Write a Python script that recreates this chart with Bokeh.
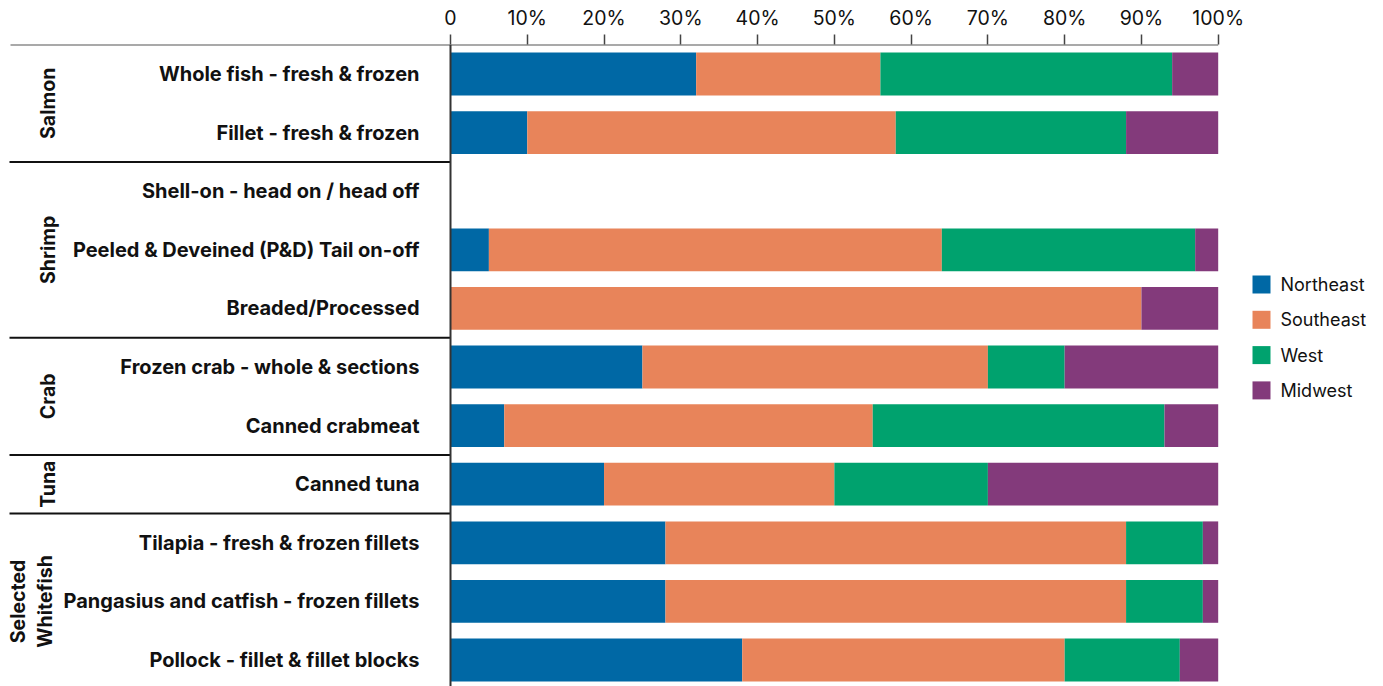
from bokeh.plotting import figure
from bokeh.models import ColumnDataSource, Range1d, LinearAxis, FixedTicker
from bokeh.core.properties import value
from bokeh.embed import file_html
from bokeh.resources import INLINE
import math

# --- data -------------------------------------------------------------
products = [
    "Whole fish - fresh & frozen",
    "Fillet - fresh & frozen",
    "Shell-on - head on / head off",
    "Peeled & Deveined (P&D) Tail on-off",
    "Breaded/Processed",
    "Frozen crab - whole & sections",
    "Canned crabmeat",
    "Canned tuna",
    "Tilapia - fresh & frozen fillets",
    "Pangasius and catfish - frozen fillets",
    "Pollock - fillet & fillet blocks",
]
groups = ["Salmon", "Shrimp", "Crab", "Tuna", "Selected\nWhitefish"]
group_sizes = [2, 3, 2, 1, 3]

regions = ["Northeast", "Southeast", "West", "Midwest"]
northeast = [32, 10, 0, 5, 0, 25, 7, 20, 28, 28, 38]
southeast = [24, 48, 0, 59, 90, 45, 48, 30, 60, 60, 42]
west = [38, 30, 0, 33, 0, 10, 38, 20, 10, 10, 15]
midwest = [6, 12, 0, 3, 10, 20, 7, 30, 2, 2, 5]
colors = ["#0068a5", "#e8845a", "#00a26e", "#833a7b"]

tick_values = [0, 10, 20, 30, 40, 50, 60, 70, 80, 90, 100]
tick_labels = ["0", "10%", "20%", "30%", "40%", "50%", "60%", "70%", "80%", "90%", "100%"]

# --- layout -----------------------------------------------------------
W, H = 1383, 686
PX_X = 7.677          # pixels per percentage point
ZERO_PX = 450         # pixel column of the 0 line
TOP = 44              # frame top (axis line)
ROW_PX = 58.6         # pixels per row
ROW0_PX = 73.5        # centre of first row

x_start = -ZERO_PX / PX_X
x_end = (W - ZERO_PX) / PX_X
y_start = -(ROW0_PX - TOP) / ROW_PX
y_end = (H - ROW0_PX) / ROW_PX

def px_to_x(px):
    return (px - ZERO_PX) / PX_X

def py_to_y(py):
    return (py - ROW0_PX) / ROW_PX

FONT = value("Inter")
INK = "#111111"

p = figure(
    width=W, height=H, output_backend="svg", toolbar_location=None,
    x_range=Range1d(x_start, x_end), y_range=Range1d(y_end, y_start),
    x_axis_location=None, y_axis_location=None,
    min_border_left=0, min_border_right=0, min_border_bottom=0, min_border_top=TOP,
    outline_line_color=None, background_fill_color="white", border_fill_color="white",
)
p.grid.visible = False

# top percentage axis
axis = LinearAxis(
    ticker=FixedTicker(ticks=tick_values),
    major_label_overrides={t: l for t, l in zip(tick_values, tick_labels)},
    axis_line_color=None,
    major_tick_line_color="#444444", major_tick_line_width=1.5,
    major_tick_out=10, major_tick_in=0,
    minor_tick_line_color=None,
    major_label_text_font="Inter", major_label_text_font_size="19.5px",
    major_label_text_color=INK, major_label_standoff=5,
)
p.add_layout(axis, "above")

# stacked bars
rows = list(range(len(products)))
src = ColumnDataSource(dict(
    row=rows, Northeast=northeast, Southeast=southeast, West=west, Midwest=midwest,
))
p.hbar_stack(regions, y="row", height=0.73, color=colors, line_color=None, source=src)

# product labels
p.text(x=[px_to_x(419)] * len(products), y=rows, text=products,
       text_align="right", text_baseline="middle",
       text_font=FONT, text_font_size="20px", text_font_style="bold",
       text_color=INK)

# group separators and group labels
bounds = []
start = 0
gx, gy = [], []
for g, n in zip(groups, group_sizes):
    gy.append(start + (n - 1) / 2)
    gx.append(px_to_x(47 if "\n" not in g else 31))
    start += n
    bounds.append(start - 0.5)
p.segment(x0=[px_to_x(9)] * (len(bounds) - 1), x1=[0] * (len(bounds) - 1),
          y0=bounds[:-1], y1=bounds[:-1], line_color="#111111", line_width=2)
p.text(x=gx, y=gy, text=groups, angle=math.pi / 2,
       text_align="center", text_baseline="middle",
       text_font=FONT, text_font_size="19.5px", text_font_style="bold",
       text_color=INK, text_line_height=1.1)

# axis line across the top and the zero line
p.segment(x0=[px_to_x(10)], x1=[100], y0=[-0.5], y1=[-0.5], line_color="#555555", line_width=1.5)
p.segment(x0=[0], x1=[0], y0=[-0.5], y1=[y_end], line_color="#333333", line_width=2)

# legend
ly = [py_to_y(284 + 35.3 * i) for i in range(len(regions))]
p.scatter(x=[px_to_x(1261)] * len(regions), y=ly, marker="square", size=18,
          fill_color=colors, line_color=None)
p.text(x=[px_to_x(1280)] * len(regions), y=ly, text=regions,
       text_align="left", text_baseline="middle",
       text_font=FONT, text_font_size="18px", text_color=INK)

open("out.html", "w").write(file_html(p, INLINE))
